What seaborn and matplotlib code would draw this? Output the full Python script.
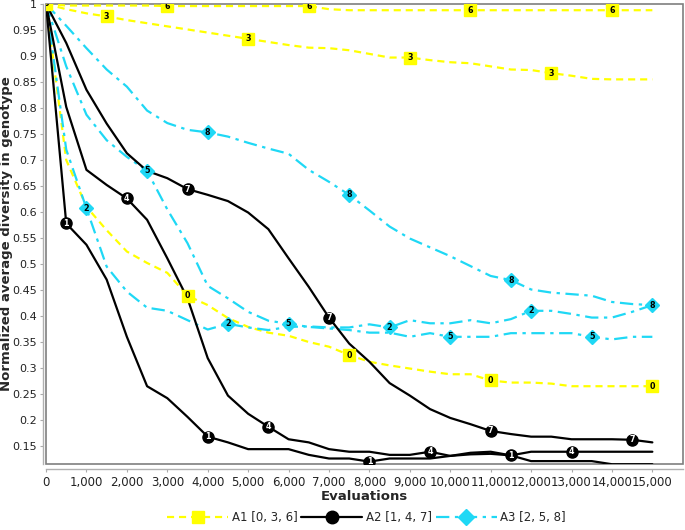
import numpy as np
import pandas as pd
import matplotlib
matplotlib.use("Agg")
import matplotlib.pyplot as plt
from matplotlib.ticker import FuncFormatter
from matplotlib.lines import Line2D
import seaborn as sns

# evaluations (every 500)
evals = list(range(0, 15001, 500))

# A1 runs (yellow)
s0 = [1.0, 0.70, 0.61, 0.565, 0.524, 0.502, 0.483, 0.439, 0.421, 0.396, 0.379, 0.368, 0.362, 0.35, 0.341, 0.325,
      0.312, 0.305, 0.299, 0.293, 0.288, 0.288, 0.276, 0.272, 0.272, 0.27, 0.265, 0.265, 0.265, 0.265, 0.265]
s3 = [1.0, 0.99, 0.982, 0.976, 0.969, 0.963, 0.957, 0.951, 0.945, 0.939, 0.933, 0.927, 0.921, 0.916, 0.915, 0.911,
      0.904, 0.897, 0.897, 0.892, 0.888, 0.886, 0.88, 0.874, 0.873, 0.867, 0.862, 0.856, 0.855, 0.855, 0.855]
s6 = [1.0, 0.997, 0.997, 0.997, 0.997, 0.997, 0.996, 0.996, 0.996, 0.996, 0.996, 0.996, 0.996, 0.996, 0.99, 0.988,
      0.988, 0.988, 0.988, 0.988, 0.988, 0.988, 0.988, 0.988, 0.988, 0.988, 0.988, 0.988, 0.988, 0.988, 0.988]
# A2 runs (black)
s1 = [1.0, 0.578, 0.537, 0.47, 0.36, 0.265, 0.242, 0.206, 0.168, 0.157, 0.144, 0.144, 0.144, 0.133, 0.126, 0.126,
      0.12, 0.126, 0.126, 0.126, 0.131, 0.137, 0.139, 0.132, 0.121, 0.121, 0.121, 0.121, 0.115, 0.115, 0.115]
s4 = [1.0, 0.802, 0.681, 0.652, 0.626, 0.585, 0.511, 0.434, 0.319, 0.247, 0.212, 0.187, 0.163, 0.157, 0.144, 0.139,
      0.139, 0.133, 0.133, 0.139, 0.131, 0.134, 0.135, 0.132, 0.139, 0.139, 0.139, 0.139, 0.139, 0.139, 0.139]
s7 = [1.0, 0.925, 0.835, 0.77, 0.713, 0.679, 0.665, 0.644, 0.633, 0.621, 0.599, 0.567, 0.511, 0.456, 0.397, 0.347,
      0.312, 0.271, 0.247, 0.221, 0.204, 0.192, 0.179, 0.173, 0.168, 0.168, 0.163, 0.163, 0.163, 0.162, 0.157]
# A3 runs (cyan)
s2 = [1.0, 0.72, 0.607, 0.495, 0.447, 0.416, 0.41, 0.392, 0.374, 0.385, 0.378, 0.373, 0.379, 0.38, 0.378, 0.378,
      0.384, 0.378, 0.392, 0.386, 0.386, 0.392, 0.386, 0.394, 0.41, 0.41, 0.404, 0.397, 0.397, 0.408, 0.421]
s5 = [1.0, 0.88, 0.787, 0.738, 0.706, 0.679, 0.605, 0.54, 0.458, 0.434, 0.408, 0.391, 0.385, 0.379, 0.376, 0.373,
      0.368, 0.368, 0.36, 0.367, 0.36, 0.36, 0.36, 0.367, 0.367, 0.367, 0.367, 0.36, 0.355, 0.36, 0.36]
s8 = [1.0, 0.958, 0.915, 0.874, 0.841, 0.795, 0.771, 0.758, 0.753, 0.745, 0.733, 0.722, 0.712, 0.681, 0.658, 0.633,
      0.603, 0.572, 0.549, 0.532, 0.515, 0.496, 0.477, 0.469, 0.451, 0.445, 0.442, 0.439, 0.427, 0.423, 0.421]

series = {0: s0, 1: s1, 2: s2, 3: s3, 4: s4, 5: s5, 6: s6, 7: s7, 8: s8}

# where the numbered markers sit on each run
marks = {
    0: [0, 3500, 7500, 11000, 15000],
    1: [500, 4000, 8000, 11500],
    2: [1000, 4500, 8500, 12000],
    3: [1500, 5000, 9000, 12500],
    4: [2000, 5500, 9500, 13000],
    5: [2500, 6000, 10000, 13500],
    6: [3000, 6500, 10500, 14000],
    7: [3500, 7000, 11000, 14500],
    8: [4000, 7500, 11500, 15000],
}

groups = ["A1 [0, 3, 6]", "A2 [1, 4, 7]", "A3 [2, 5, 8]"]
YELLOW = "#ffff00"
CYAN = "#1fd8f5"
group_style = {
    0: dict(color=YELLOW, dashes=(3.2, 2.2), marker="s", ms=8, txt="black"),
    1: dict(color="black", dashes=None, marker="o", ms=8, txt="white"),
    2: dict(color=CYAN, dashes=(6, 2.5, 1.5, 2.5), marker="D", ms=7, txt="black"),
}

sns.set_style("white")
plt.rcParams["font.family"] = ["DejaVu Sans"]

fig = plt.figure(figsize=(6.85, 5.3), dpi=100)
ax = fig.add_axes([0.0672, 0.1245, 0.930, 0.868])

rows = []
for k, vals in series.items():
    for e, v in zip(evals, vals):
        rows.append({"run": k, "evals": e, "div": v})
df = pd.DataFrame(rows)

for k in [6, 3, 0, 8, 5, 2, 7, 4, 1]:
    st = group_style[k % 3]
    sub = df[df.run == k]
    sns.lineplot(data=sub, x="evals", y="div", ax=ax, color=st["color"], lw=1.6,
                 legend=False, zorder=3)
    if st["dashes"]:
        ax.lines[-1].set_dashes(st["dashes"])
    lookup = dict(zip(evals, series[k]))
    for m in marks[k]:
        ax.plot(m, lookup[m], marker=st["marker"], ms=st["ms"], color=st["color"],
                mec=st["color"], zorder=5)
        ax.text(m, lookup[m], str(k), ha="center", va="center", fontsize=5.8,
                fontweight="bold", color=st["txt"], zorder=6, clip_on=True)

ax.set_xlim(0, 15760)
ax.set_ylim(0.1154, 1.0)
ax.set_xticks(range(0, 15001, 1000))
ax.set_yticks(np.arange(0.15, 1.001, 0.05))
ax.xaxis.set_major_formatter(FuncFormatter(lambda v, _: f"{int(v):,}"))
ax.yaxis.set_major_formatter(FuncFormatter(lambda v, _: f"{v:.2f}".rstrip("0").rstrip(".")))
ax.tick_params(axis="both", labelsize=8, labelcolor="#222222", color="#aaaaaa",
               length=2.5, width=0.8, direction="out", left=True, bottom=True, pad=1.5)
ax.tick_params(axis="x", labelsize=8.5, pad=2.5)

# frame around plot area + offset axis lines
ax.patch.set_edgecolor("#7f7f7f")
ax.patch.set_linewidth(1.2)
for side in ["top", "right"]:
    ax.spines[side].set_visible(False)
for side in ["left", "bottom"]:
    ax.spines[side].set_visible(True)
    ax.spines[side].set_color("#b0b0b0")
    ax.spines[side].set_linewidth(1.0)
ax.spines["left"].set_position(("outward", 2.3))
ax.spines["bottom"].set_position(("outward", 3.6))

ax.set_xlabel("Evaluations", fontsize=9.5, fontweight="bold", labelpad=1)
ax.set_ylabel("Normalized average diversity in genotype", fontsize=9.5, fontweight="bold")
ax.yaxis.set_label_coords(-0.0525, 0.5)

handles = []
for i, g in enumerate(groups):
    st = group_style[i]
    h = Line2D([0], [0], color=st["color"], lw=1.6, marker=st["marker"], ms=st["ms"] + 1)
    if st["dashes"]:
        h.set_dashes(st["dashes"])
    handles.append(h)
fig.legend(handles, groups, loc="center", bbox_to_anchor=(0.535, 0.023), ncol=3, frameon=False,
           fontsize=8.5, handlelength=5.2, handletextpad=0.3, columnspacing=0.3)

fig.savefig("out.png", dpi=100)
